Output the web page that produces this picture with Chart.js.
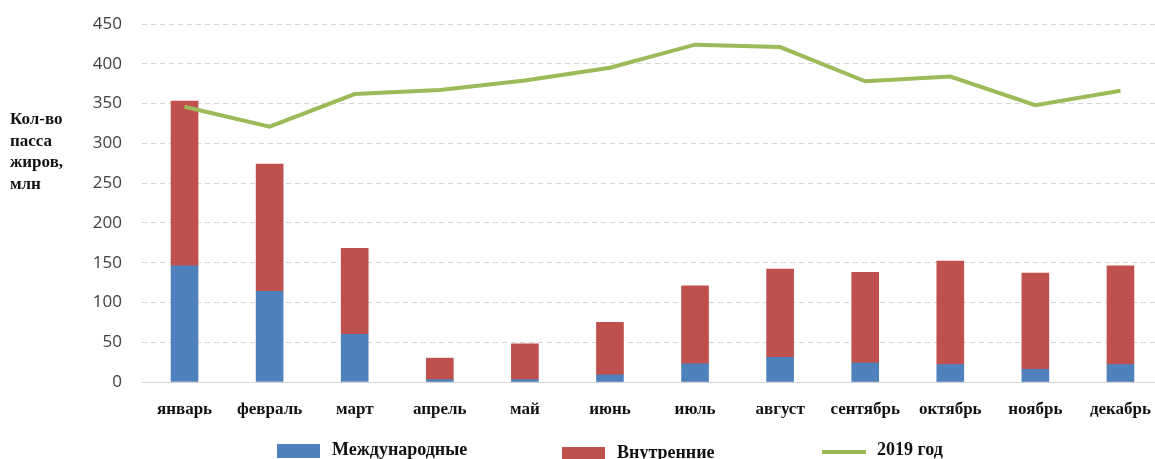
<!DOCTYPE html>
<html>
<head>
<meta charset="utf-8">
<style>
  html, body { margin: 0; padding: 0; background: #ffffff; overflow: hidden; }
  #wrap { position: relative; width: 1155px; height: 459px; overflow: hidden; }
</style>
<script src="https://cdn.jsdelivr.net/npm/chart.js@4/dist/chart.umd.min.js"></script>
</head>
<body>
<div id="wrap"><canvas id="chart" width="1163" height="459"></canvas></div>
<script>
// Monthly passenger traffic, million passengers
const months = ['январь', 'февраль', 'март', 'апрель', 'май', 'июнь',
                'июль', 'август', 'сентябрь', 'октябрь', 'ноябрь', 'декабрь'];
const international = [146, 114, 60, 3, 3, 9, 23, 31, 24, 22, 16, 22];
const domestic      = [207, 160, 108, 27, 45, 66, 98, 111, 114, 130, 121, 124];
const year2019      = [346, 321, 362, 367, 379, 395, 424, 421, 378, 384, 348, 366];
const yTicks = [0, 50, 100, 150, 200, 250, 300, 350, 400, 450];
const axisTitleLines = ['Кол-во', 'пасса', 'жиров,', 'млн'];

const BLUE = '#4f81bd';
const RED = '#c0504d';
const GREEN = '#9bbb59';
const SERIF = '"Liberation Serif", "DejaVu Serif", serif';

// Horizontal multi-line axis title on the left and the legend row at the bottom
const decorations = {
  id: 'decorations',
  afterDraw(chart) {
    const ctx = chart.ctx;
    ctx.save();
    ctx.fillStyle = '#111111';
    ctx.font = 'bold 17px ' + SERIF;
    ctx.textAlign = 'left';
    ctx.textBaseline = 'middle';
    axisTitleLines.forEach((t, i) => ctx.fillText(t, 10, 120 + i * 21.5));

    const items = [
      { ds: 0, x: 277, kind: 'box', ty: 450 },
      { ds: 1, x: 562, kind: 'box', ty: 453 },
      { ds: 2, x: 822, kind: 'line', ty: 450 }
    ];
    ctx.font = 'bold 18px ' + SERIF;
    items.forEach(it => {
      const d = chart.data.datasets[it.ds];
      if (it.kind === 'box') {
        ctx.fillStyle = d.backgroundColor;
        ctx.fillRect(it.x, it.ty - 6, 43, 14);
      } else {
        ctx.strokeStyle = d.borderColor;
        ctx.lineWidth = 4;
        ctx.beginPath();
        ctx.moveTo(it.x, it.ty + 2);
        ctx.lineTo(it.x + 44, it.ty + 2);
        ctx.stroke();
      }
      ctx.fillStyle = '#111111';
      ctx.fillText(d.label, it.x + 55, it.ty);
    });
    ctx.restore();
  }
};

new Chart(document.getElementById('chart'), {
  type: 'bar',
  data: {
    labels: months,
    datasets: [
      { label: 'Международные', data: international, backgroundColor: BLUE,
        stack: 'bars', order: 1, barThickness: 27 },
      { label: 'Внутренние', data: domestic, backgroundColor: RED,
        stack: 'bars', order: 1, barThickness: 27 },
      { type: 'line', label: '2019 год', data: year2019, borderColor: GREEN,
        backgroundColor: GREEN, borderWidth: 4, pointRadius: 0, tension: 0,
        stack: 'line', order: 0 }
    ]
  },
  options: {
    responsive: false,
    animation: false,
    layout: { padding: { top: 24, right: 0, bottom: 0, left: 0 } },
    plugins: { legend: { display: false }, tooltip: { enabled: false } },
    scales: {
      x: {
        stacked: true,
        offset: true,
        grid: { display: false },
        border: { display: true, color: '#d4d4d4', width: 1 },
        ticks: {
          color: '#111111',
          font: { family: SERIF, size: 17, weight: 'bold' },
          padding: 9,
          maxRotation: 0,
          autoSkip: false
        },
        afterFit(scale) { scale.height = 77; }
      },
      y: {
        stacked: true,
        min: 0,
        max: 450,
        afterBuildTicks(scale) { scale.ticks = yTicks.map(v => ({ value: v })); },
        grid: {
          color: ctx => ctx.tick && ctx.tick.value === 0 ? 'rgba(0,0,0,0)' : '#d6d6d6',
          drawTicks: false,
          lineWidth: 1
        },
        border: { display: false, dash: [5, 4] },
        ticks: {
          color: '#404040',
          font: { family: '"Open Sans", sans-serif', size: 17 },
          padding: 20
        },
        afterFit(scale) {
          scale.width = 142;
          scale.paddingTop = 0;
          scale.paddingBottom = 0;
        }
      }
    }
  },
  plugins: [decorations]
});
</script>
</body>
</html>
